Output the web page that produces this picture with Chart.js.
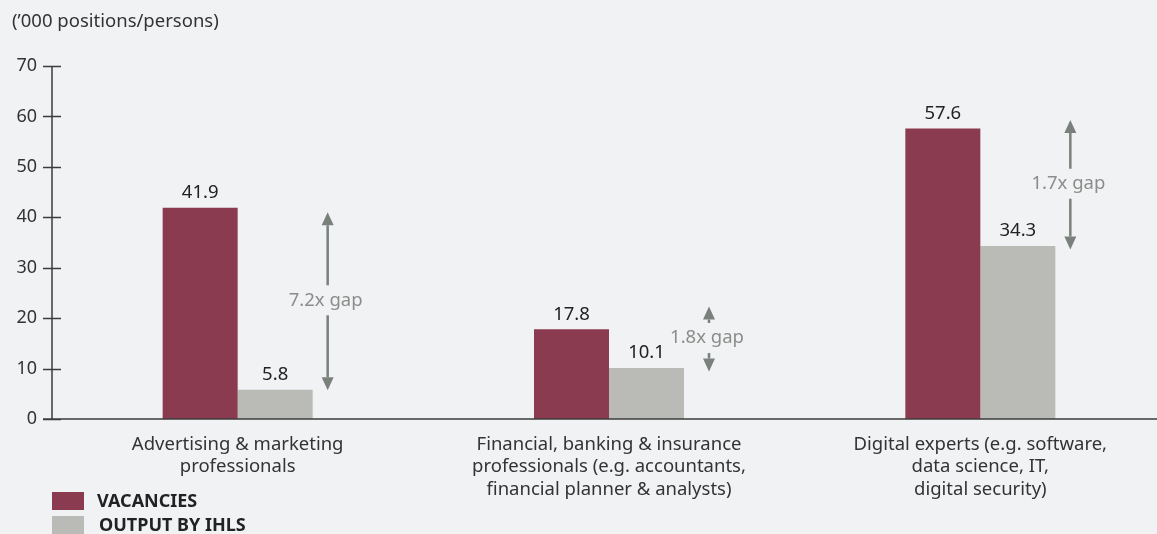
<!DOCTYPE html>
<html lang="en">
<head>
  <meta charset="UTF-8">
  <title>Vacancies vs output by IHLs</title>
  <script src="https://cdn.jsdelivr.net/npm/chart.js"></script>
  <style>
    html, body { margin: 0; padding: 0; background: #f1f2f4; overflow: hidden; }
    canvas { display: block; }
  </style>
</head>
<body>
<canvas id="gapChart" width="1170" height="534"></canvas>

<script>
// job categories (multi-line labels)
const categories = [
  ['Advertising & marketing', 'professionals'],
  ['Financial, banking & insurance', 'professionals (e.g. accountants,', 'financial planner & analysts)'],
  ['Digital experts (e.g. software,', 'data science, IT,', 'digital security)']
];
const vacancies = [41.9, 17.8, 57.6];
const outputIhls = [5.8, 10.1, 34.3];

// gap callouts: text and arrow tip values ('000)
const gapLabels = ['7.2x gap', '1.8x gap', '1.7x gap'];
const gapTop = [41.0, 22.3, 59.3];
const gapBottom = [5.7, 9.4, 33.6];

const yMin = 0, yMax = 70, yStep = 10;

const FONT = '"Noto Sans", "Open Sans", sans-serif';
const AXIS = '#3c3c3c';
const MAROON = '#8b3b4f';
const GREY = '#babbb7';

const extras = {
  id: 'extras',
  beforeDraw(chart) {
    const c = chart.ctx;
    c.save();
    c.fillStyle = '#f1f2f4';
    c.fillRect(0, 0, chart.width, chart.height);
    c.restore();
  },
  afterDraw(chart) {
    const c = chart.ctx;
    const area = chart.chartArea;
    const y = chart.scales.y;
    const x = chart.scales.x;
    c.save();

    // axes
    c.strokeStyle = AXIS;
    c.lineWidth = 1.5;
    c.beginPath();
    c.moveTo(area.left, area.top);
    c.lineTo(area.left, area.bottom);
    c.moveTo(area.left - 9, area.bottom);
    c.lineTo(chart.width, area.bottom);
    y.ticks.forEach(t => {
      const py = Math.round(y.getPixelForValue(t.value)) + 0.5;
      c.moveTo(area.left - 9, py);
      c.lineTo(area.left + 9, py);
    });
    c.stroke();

    // y axis title
    c.fillStyle = '#333';
    c.font = '18.5px ' + FONT;
    c.textAlign = 'left';
    c.textBaseline = 'middle';
    c.fillText('(\u2019000 positions/persons)', 12, 22);

    // value labels above bars
    c.fillStyle = '#222';
    c.font = '18.5px ' + FONT;
    c.textAlign = 'center';
    c.textBaseline = 'middle';
    chart.data.datasets.forEach((ds, di) => {
      chart.getDatasetMeta(di).data.forEach((bar, i) => {
        c.fillText(ds.data[i].toFixed(1), bar.x, bar.y - 15);
      });
    });

    // gap arrows
    const offsets = [90, 100, 90];
    c.strokeStyle = '#7a817c';
    c.fillStyle = '#7a817c';
    c.lineWidth = 2.5;
    gapLabels.forEach((txt, i) => {
      const ax = x.getPixelForValue(i) + offsets[i];
      const top = y.getPixelForValue(gapTop[i]);
      const bot = y.getPixelForValue(gapBottom[i]);
      const mid = (top + bot) / 2 - 1;
      const head = 13, hw = 6;
      c.beginPath();
      c.moveTo(ax, top + head);
      c.lineTo(ax, mid - 15);
      c.moveTo(ax, mid + 15);
      c.lineTo(ax, bot - head);
      c.stroke();
      c.beginPath();
      c.moveTo(ax, top);
      c.lineTo(ax - hw, top + head);
      c.lineTo(ax + hw, top + head);
      c.closePath();
      c.moveTo(ax, bot);
      c.lineTo(ax - hw, bot - head);
      c.lineTo(ax + hw, bot - head);
      c.closePath();
      c.fill();
      c.save();
      c.fillStyle = '#8a8e8b';
      c.font = '18.5px ' + FONT;
      c.textAlign = 'center';
      c.fillText(txt, ax - 2, mid);
      c.restore();
    });

    // legend
    c.textAlign = 'left';
    c.font = 'bold 18px ' + FONT;
    const legend = [[MAROON, 'VACANCIES', 492, 97], [GREY, 'OUTPUT BY IHLS', 516, 99]];
    legend.forEach(([col, label, ly, tx]) => {
      c.fillStyle = col;
      c.fillRect(52, ly, 32, 18);
      c.fillStyle = '#222';
      c.fillText(label, tx, ly + 10);
    });

    c.restore();
  }
};

new Chart(document.getElementById('gapChart'), {
  type: 'bar',
  data: {
    labels: categories,
    datasets: [
      { label: 'VACANCIES', data: vacancies, backgroundColor: MAROON },
      { label: 'OUTPUT BY IHLS', data: outputIhls, backgroundColor: GREY }
    ]
  },
  options: {
    responsive: false,
    animation: false,
    devicePixelRatio: 1,
    layout: { padding: { top: 66, right: 4, left: 0, bottom: 0 } },
    datasets: { bar: { categoryPercentage: 0.404, barPercentage: 1 } },
    plugins: { legend: { display: false }, tooltip: { enabled: false } },
    scales: {
      x: {
        grid: { display: false, drawTicks: false },
        border: { display: false },
        ticks: { color: '#333', font: { family: FONT, size: 18.5, lineHeight: 1.22 }, padding: 14, maxRotation: 0, autoSkip: false },
        afterFit(s) { s.height = 534 - 419; }
      },
      y: {
        min: yMin, max: yMax,
        grid: { display: false, drawTicks: false },
        border: { display: false },
        ticks: { stepSize: yStep, color: '#333', font: { family: FONT, size: 18 }, padding: 15 },
        afterFit(s) { s.width = 52; }
      }
    }
  },
  plugins: [extras]
});
</script>
</body>
</html>
